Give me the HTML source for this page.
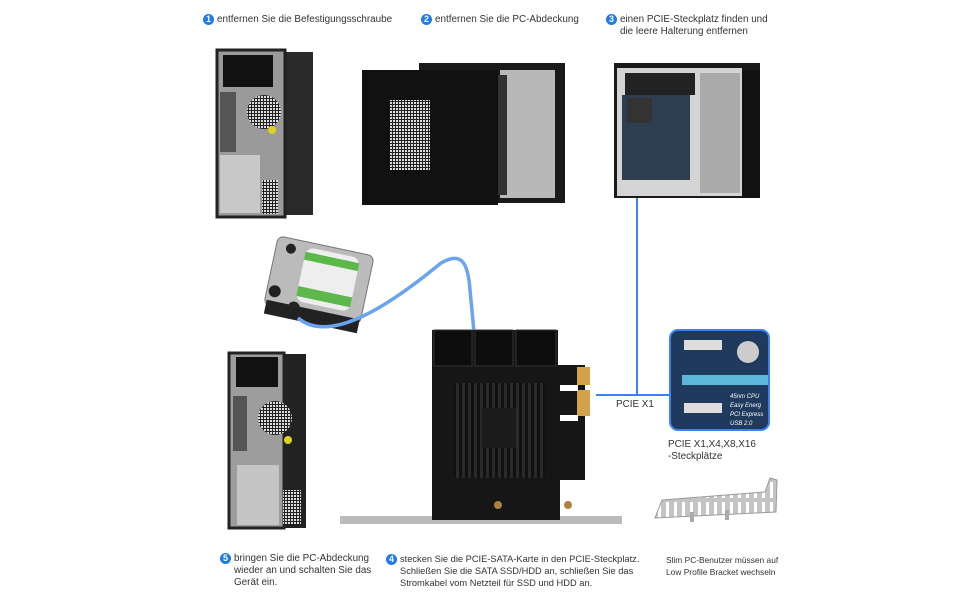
<!DOCTYPE html>
<html><head><meta charset="utf-8"><style>
html,body{margin:0;padding:0;background:#fff;}
body{width:970px;height:600px;position:relative;overflow:hidden;font-family:"Liberation Sans",sans-serif;color:#333;}
.t{position:absolute;font-size:9.9px;line-height:12px;white-space:nowrap;}
.n{display:inline-block;width:11px;height:11px;border-radius:50%;background:#1e7be8;color:#fff;font-size:9px;line-height:11px;text-align:center;font-weight:bold;margin-right:3px;vertical-align:0px;}
</style></head><body>
<svg width="970" height="600" style="position:absolute;left:0;top:0">
<defs>
<pattern id="grid" width="3" height="3" patternUnits="userSpaceOnUse"><rect width="3" height="3" fill="#222"/><rect width="2" height="2" fill="#ddd"/></pattern>
<pattern id="hs" width="6" height="6" patternUnits="userSpaceOnUse"><rect width="6" height="6" fill="#111"/><rect width="3" height="6" fill="#2a2a2a"/></pattern>
<pattern id="vent" width="8" height="20" patternUnits="userSpaceOnUse"><rect width="8" height="20" fill="#c4c4c4"/><rect x="2" y="2" width="3" height="16" fill="#fff"/></pattern>
</defs>
<!-- Tower 1 -->
<rect x="285" y="52" width="28" height="163" fill="#2a2a2a"/>
<rect x="217" y="50" width="68" height="167" fill="#9a9a9a"/>
<rect x="217" y="50" width="68" height="167" fill="none" stroke="#222" stroke-width="3"/>
<rect x="223" y="55" width="50" height="32" fill="#111"/>
<circle cx="264" cy="112" r="17" fill="url(#grid)"/>
<rect x="220" y="92" width="16" height="60" fill="#555"/>
<rect x="220" y="155" width="40" height="58" fill="#c8c8c8"/>
<rect x="262" y="180" width="16" height="34" fill="url(#grid)"/>
<circle cx="272" cy="130" r="4" fill="#e0d020"/>
<!-- Case 2 -->
<rect x="419" y="63" width="146" height="140" fill="#1a1a1a"/>
<rect x="500" y="70" width="55" height="128" fill="#b8b8b8"/>
<rect x="495" y="75" width="12" height="120" fill="#333"/>
<rect x="362" y="70" width="136" height="135" fill="#111"/>
<rect x="390" y="100" width="40" height="70" fill="url(#grid)"/>
<!-- Case 3 -->
<rect x="614" y="63" width="146" height="135" fill="#1a1a1a"/>
<rect x="617" y="68" width="125" height="128" fill="#d4d4d4"/>
<rect x="625" y="73" width="70" height="22" fill="#222"/>
<rect x="622" y="95" width="68" height="85" fill="#2c3e50"/>
<rect x="627" y="98" width="25" height="25" fill="#333"/>
<rect x="700" y="73" width="40" height="120" fill="#aaa"/>
<rect x="742" y="70" width="18" height="128" fill="#111"/>
<!-- blue connector -->
<path d="M637 198 V395 M596 395 H670" stroke="#3b82f6" stroke-width="2" fill="none"/>
<!-- HDD -->
<g transform="rotate(12 318 280)">
<rect x="270" y="245" width="98" height="70" rx="6" fill="#bbb" stroke="#777"/>
<rect x="300" y="250" width="55" height="55" rx="8" fill="#eee"/>
<rect x="300" y="255" width="55" height="8" fill="#5cb84a"/>
<rect x="300" y="290" width="55" height="10" fill="#5cb84a"/>
<rect x="272" y="310" width="95" height="14" fill="#222"/>
<circle cx="278" cy="300" r="6" fill="#222"/><circle cx="300" cy="312" r="6" fill="#222"/><circle cx="285" cy="255" r="5" fill="#222"/>
</g>
<path d="M298 318 C330 345 390 305 441 263 C460 252 468 260 470 290 L474 332" stroke="#6aa4f0" stroke-width="3.5" fill="none"/>
<!-- PCIe card -->
<rect x="340" y="516" width="282" height="8" fill="#bbb"/>
<path d="M432 330 H558 V365 H585 V480 H560 V520 H432 Z" fill="#161616"/>
<rect x="434" y="330" width="38" height="36" fill="#0d0d0d" stroke="#333"/>
<rect x="475" y="330" width="38" height="36" fill="#0d0d0d" stroke="#333"/>
<rect x="516" y="330" width="40" height="36" fill="#0d0d0d" stroke="#333"/>
<rect x="453" y="383" width="92" height="95" fill="url(#hs)"/>
<rect x="482" y="408" width="34" height="40" fill="#1b1b1b"/>
<rect x="577" y="367" width="13" height="18" fill="#d4a24a"/>
<rect x="577" y="390" width="13" height="26" fill="#d4a24a"/>
<rect x="560" y="385" width="18" height="6" fill="#fff"/>
<rect x="560" y="415" width="18" height="6" fill="#fff"/>
<circle cx="498" cy="505" r="4" fill="#b08040"/><circle cx="568" cy="505" r="4" fill="#b08040"/>
<!-- motherboard -->
<rect x="670" y="330" width="99" height="100" rx="8" fill="#1f3a5c" stroke="#3b82f6" stroke-width="2"/>
<rect x="684" y="340" width="38" height="10" fill="#ddd"/>
<rect x="682" y="375" width="86" height="10" fill="#5bb8d8"/>
<rect x="684" y="403" width="38" height="10" fill="#ddd"/>
<circle cx="748" cy="352" r="11" fill="#ccc"/>
<text x="730" y="398" font-size="6" fill="#fff" font-style="italic" font-family="Liberation Sans">45nm CPU</text>
<text x="730" y="407" font-size="6" fill="#fff" font-style="italic" font-family="Liberation Sans">Easy Energ</text>
<text x="730" y="416" font-size="6" fill="#fff" font-style="italic" font-family="Liberation Sans">PCI Express</text>
<text x="730" y="425" font-size="6" fill="#fff" font-style="italic" font-family="Liberation Sans">USB 2.0</text>
<!-- small bracket -->
<path d="M662 500 L765 492 L770 478 L777 480 L776 512 L655 518 Z" fill="url(#vent)" stroke="#999"/>
<rect x="690" y="512" width="4" height="10" fill="#aaa"/><rect x="725" y="510" width="4" height="10" fill="#aaa"/>
<!-- tower 4 -->
<rect x="282" y="354" width="24" height="174" fill="#222"/>
<rect x="229" y="353" width="55" height="175" fill="#9d9d9d" stroke="#222" stroke-width="3"/>
<rect x="236" y="357" width="42" height="30" fill="#111"/>
<circle cx="275" cy="418" r="17" fill="url(#grid)"/>
<rect x="233" y="396" width="14" height="55" fill="#555"/>
<rect x="237" y="465" width="42" height="60" fill="#c5c5c5"/>
<rect x="283" y="490" width="18" height="35" fill="url(#grid)"/>
<circle cx="288" cy="440" r="4" fill="#e0d020"/>
</svg>
<div class="t" style="left:203px;top:14px"><span class="n">1</span>entfernen Sie die Befestigungsschraube</div>
<div class="t" style="left:421px;top:14px"><span class="n">2</span>entfernen Sie die PC-Abdeckung</div>
<div class="t" style="left:606px;top:14px"><span class="n">3</span>einen PCIE-Steckplatz finden und<br><span style="margin-left:14px">die leere Halterung entfernen</span></div>
<div class="t" style="left:616px;top:399px">PCIE X1</div>
<div class="t" style="left:668px;top:439px">PCIE X1,X4,X8,X16<br>-Steckplätze</div>
<div class="t" style="left:220px;top:553px"><span class="n">5</span>bringen Sie die PC-Abdeckung<br><span style="margin-left:14px">wieder an und schalten Sie das</span><br><span style="margin-left:14px">Gerät ein.</span></div>
<div class="t" style="left:386px;top:553px;font-size:9.3px"><span class="n">4</span>stecken Sie die PCIE-SATA-Karte in den PCIE-Steckplatz.<br><span style="margin-left:14px">Schließen Sie die SATA SSD/HDD an, schließen Sie das</span><br><span style="margin-left:14px">Stromkabel vom Netzteil für SSD und HDD an.</span></div>
<div class="t" style="left:666px;top:554px;font-size:8.4px;line-height:12px">Slim PC-Benutzer müssen auf<br>Low Profile Bracket wechseln</div>
</body></html>
